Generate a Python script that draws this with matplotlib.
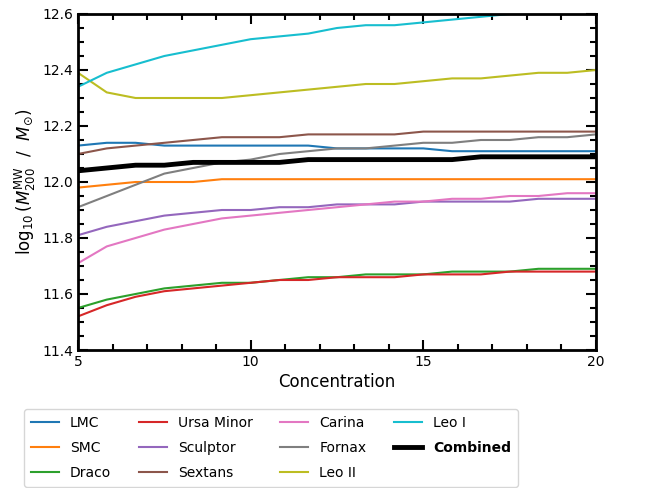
import numpy as np
import matplotlib
matplotlib.use("Agg")
import matplotlib.pyplot as plt
from matplotlib.ticker import MultipleLocator

# Halo concentration grid
concentration = np.linspace(5, 20, 19)

# log10(M200 / Msun) of the Milky Way inferred from each satellite
lmc = [12.13, 12.14, 12.14, 12.13, 12.13, 12.13, 12.13, 12.13, 12.13, 12.12,
       12.12, 12.12, 12.12, 12.11, 12.11, 12.11, 12.11, 12.11, 12.11]
smc = [11.98, 11.99, 12.00, 12.00, 12.00, 12.01, 12.01, 12.01, 12.01, 12.01,
       12.01, 12.01, 12.01, 12.01, 12.01, 12.01, 12.01, 12.01, 12.01]
draco = [11.55, 11.58, 11.60, 11.62, 11.63, 11.64, 11.64, 11.65, 11.66, 11.66,
         11.67, 11.67, 11.67, 11.68, 11.68, 11.68, 11.69, 11.69, 11.69]
ursa_minor = [11.52, 11.56, 11.59, 11.61, 11.62, 11.63, 11.64, 11.65, 11.65, 11.66,
              11.66, 11.66, 11.67, 11.67, 11.67, 11.68, 11.68, 11.68, 11.68]
sculptor = [11.81, 11.84, 11.86, 11.88, 11.89, 11.90, 11.90, 11.91, 11.91, 11.92,
            11.92, 11.92, 11.93, 11.93, 11.93, 11.93, 11.94, 11.94, 11.94]
sextans = [12.10, 12.12, 12.13, 12.14, 12.15, 12.16, 12.16, 12.16, 12.17, 12.17,
           12.17, 12.17, 12.18, 12.18, 12.18, 12.18, 12.18, 12.18, 12.18]
carina = [11.71, 11.77, 11.80, 11.83, 11.85, 11.87, 11.88, 11.89, 11.90, 11.91,
          11.92, 11.93, 11.93, 11.94, 11.94, 11.95, 11.95, 11.96, 11.96]
fornax = [11.91, 11.95, 11.99, 12.03, 12.05, 12.07, 12.08, 12.10, 12.11, 12.12,
          12.12, 12.13, 12.14, 12.14, 12.15, 12.15, 12.16, 12.16, 12.17]
leo_ii = [12.39, 12.32, 12.30, 12.30, 12.30, 12.30, 12.31, 12.32, 12.33, 12.34,
          12.35, 12.35, 12.36, 12.37, 12.37, 12.38, 12.39, 12.39, 12.40]
leo_i = [12.34, 12.39, 12.42, 12.45, 12.47, 12.49, 12.51, 12.52, 12.53, 12.55,
         12.56, 12.56, 12.57, 12.58, 12.59, 12.60, 12.61, 12.61, 12.62]
combined = [12.04, 12.05, 12.06, 12.06, 12.07, 12.07, 12.07, 12.07, 12.08, 12.08,
            12.08, 12.08, 12.08, 12.08, 12.09, 12.09, 12.09, 12.09, 12.09]

names = ["LMC", "SMC", "Draco", "Ursa Minor", "Sculptor", "Sextans",
         "Carina", "Fornax", "Leo II", "Leo I"]
series = [lmc, smc, draco, ursa_minor, sculptor, sextans,
          carina, fornax, leo_ii, leo_i]

fig = plt.figure(figsize=(6.56, 4.88), dpi=100)
ax = fig.add_axes([78 / 656, 1 - 350 / 488, 518 / 656, 336 / 488])

for name, vals in zip(names, series):
    ax.plot(concentration, vals, lw=1.5, label=name)
ax.plot(concentration, combined, color="black", lw=3.5, label="Combined")

ax.set_xlim(5, 20)
ax.set_ylim(11.4, 12.6)
ax.xaxis.set_major_locator(MultipleLocator(5))
ax.xaxis.set_minor_locator(MultipleLocator(1))
ax.yaxis.set_major_locator(MultipleLocator(0.2))
ax.yaxis.set_minor_locator(MultipleLocator(0.05))
ax.tick_params(which="both", direction="in", top=True, right=True,
               width=1.5, labelsize=10)
ax.tick_params(which="major", length=7)
ax.tick_params(which="minor", length=4)
for sp in ax.spines.values():
    sp.set_linewidth(2)

ax.set_xlabel("Concentration", fontsize=12, labelpad=3)
ax.set_ylabel(r"$\log_{10}(M_{200}^{\rm MW}\ \ /\ \ M_{\odot})$", fontsize=12,
              labelpad=3)

leg = fig.legend(loc="upper left", bbox_to_anchor=(24 / 656, 1 - 409 / 488),
                 ncol=4, fontsize=10, borderaxespad=0, labelspacing=0.8,
                 borderpad=0.5)
for txt in leg.get_texts():
    if txt.get_text() == "Combined":
        txt.set_fontweight("bold")

fig.savefig("out.png", dpi=100)
